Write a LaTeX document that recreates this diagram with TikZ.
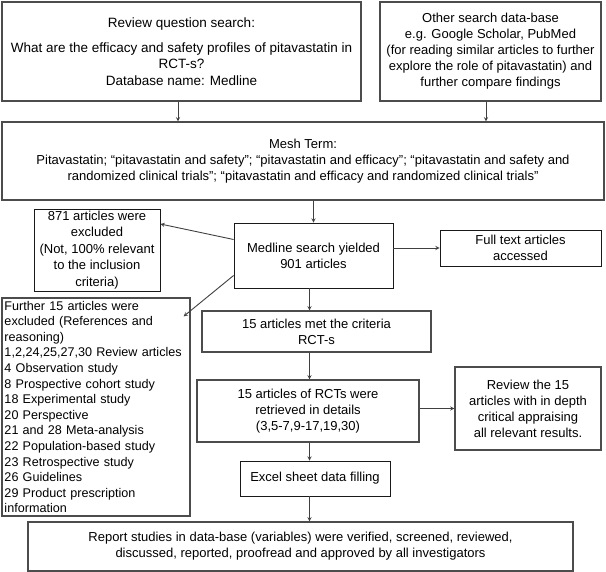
\documentclass[tikz,border=0pt]{standalone}
\usepackage{fontspec}
\setmainfont{Liberation Sans}
\begin{document}
\begin{tikzpicture}[x=1pt, y=-1pt,
    box/.style={draw=black!70, line width=1.2pt, align=center, inner sep=2pt,
        font=\fontsize{13}{16}\selectfont},
    thinbox/.style={box, draw=black!90, line width=0.8pt},
    link/.style={->, >=stealth, black!75, line width=0.9pt}]
    % Page frame
    \useasboundingbox (0,0) rectangle (606,572);

    % Search boxes at the top
    \node[box, minimum width=359pt, minimum height=99pt, font=\fontsize{13.5}{16.5}\selectfont] (quest) at (181.5,51.5)
        {Review question search:\\[8pt] What are the efficacy and safety profiles of pitavastatin in\\ RCT-s?\\ Database name: Medline};
    \node[box, minimum width=221pt, minimum height=99pt] (other) at (490.5,51.5)
        {Other search data-base\\ e.g. Google Scholar, PubMed\\ (for reading similar articles to further\\ explore the role of pitavastatin) and\\ further compare findings};

    % Mesh terms
    \node[box, minimum width=602pt, minimum height=78pt] (mesh) at (303,161)
        {Mesh Term:\\ Pitavastatin; “pitavastatin and safety”; “pitavastatin and efficacy”; “pitavastatin and safety and\\ randomized clinical trials”; “pitavastatin and efficacy and randomized clinical trials”};

    % Search result and side boxes
    \node[thinbox, minimum width=159pt, minimum height=65pt] (medline) at (313.5,255.5)
        {Medline search yielded\\ 901 articles};
    \node[thinbox, minimum width=126pt, minimum height=78pt, font=\fontsize{13}{16.5}\selectfont] (excl) at (97,250)
        {871 articles were\\ excluded\\ (Not, 100\% relevant\\ to the inclusion\\ criteria)};
    \node[thinbox, minimum width=161pt, minimum height=36pt] (full) at (520.5,248)
        {Full text articles\\ accessed};
    \node[box, minimum width=188pt, minimum height=218pt, align=left, text width=183pt,
        font=\fontsize{12.6}{15.6}\selectfont] (further) at (96,407)
        {Further 15 articles were\\ excluded (References and\\ reasoning)\\ 1,2,24,25,27,30 Review articles\\ 4 Observation study\\ 8 Prospective cohort study\\ 18 Experimental study\\ 20 Perspective\\ 21 and 28 Meta-analysis\\ 22 Population-based study\\ 23 Retrospective study\\ 26 Guidelines\\ 29 Product prescription\\ information};

    % Main column
    \node[box, minimum width=229pt, minimum height=41pt] (crit) at (316.5,331.5)
        {15 articles met the criteria\\ RCT-s};
    \node[box, minimum width=222pt, minimum height=62pt] (retr) at (308,411)
        {15 articles of RCTs were\\ retrieved in details\\ (3,5-7,9-17,19,30)};
    \node[box, minimum width=146pt, minimum height=83pt] (review) at (528,408.5)
        {Review the 15\\ articles with in depth\\ critical appraising\\ all relevant results.};
    \node[thinbox, minimum width=150pt, minimum height=35pt] (excel) at (315,478.5)
        {Excel sheet data filling};
    \node[box, minimum width=545pt, minimum height=49pt] (report) at (300.5,546.5)
        {Report studies in data-base (variables) were verified, screened, reviewed,\\ discussed, reported, proofread and approved by all investigators};

    % Arrows
    \draw[link] ([xshift=-3.5pt]quest.south) -- ([xshift=-3.5pt]quest.south |- mesh.north);
    \draw[link] ([xshift=-4.5pt]other.south) -- ([xshift=-4.5pt]other.south |- mesh.north);
    \draw[link] (medline.north |- mesh.south) -- (medline.north);
    \draw[link] ([yshift=16pt]medline.west) -- ([yshift=26pt]excl.east);
    \draw[link] ([yshift=-20pt]medline.west) -- ([xshift=-7pt,yshift=-19pt]further.north east);
    \draw[link] (medline.east |- full.west) -- (full.west);
    \draw[link] ([xshift=-4pt]medline.south) -- ([xshift=-4pt]medline.south |- crit.north);
    \draw[link] ([xshift=-4pt]medline.south |- crit.south) -- ([xshift=-4pt]medline.south |- retr.north);
    \draw[link] (retr.east |- review.west) -- (review.west);
    \draw[link] ([xshift=-4pt]medline.south |- retr.south) -- ([xshift=-4pt]medline.south |- excel.north);
    \draw[link] ([xshift=-4pt]medline.south |- excel.south) -- ([xshift=-4pt]medline.south |- report.north);
\end{tikzpicture}
\end{document}
